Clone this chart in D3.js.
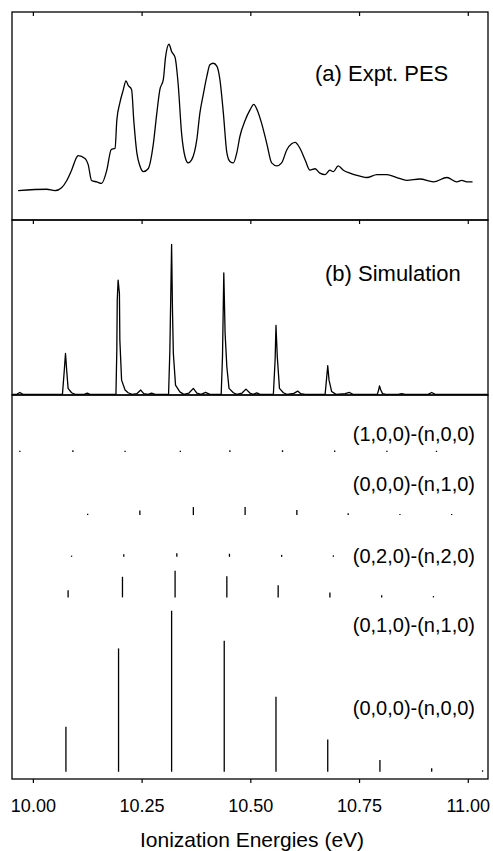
<!DOCTYPE html>
<html>
<head>
<meta charset="utf-8">
<script src="https://cdn.jsdelivr.net/npm/d3@7"></script>
<style>
  html, body { margin: 0; padding: 0; background: #fff; }
  svg { display: block; font-family: "Liberation Sans", Arial, Helvetica, sans-serif; }
</style>
</head>
<body>
<svg id="chart" width="493" height="851"></svg>
<script>
// ---------------- DATA ----------------
const xTicks = [10.00, 10.25, 10.50, 10.75, 11.00];
const xTickLabels = ["10.00", "10.25", "10.50", "10.75", "11.00"];
const xTitle = "Ionization Energies (eV)";

// (a) experimental photoelectron spectrum (relative intensity)
const pesEnergy = [9.966,10.032,10.051,10.066,10.078,10.089,10.101,10.104,10.120,10.127,10.135,10.147,10.158,10.170,10.180,10.189,10.193,10.200,10.208,10.214,10.219,10.227,10.232,10.239,10.246,10.254,10.265,10.277,10.285,10.292,10.300,10.305,10.313,10.319,10.327,10.334,10.342,10.350,10.357,10.365,10.377,10.384,10.392,10.400,10.407,10.415,10.423,10.430,10.438,10.446,10.453,10.461,10.469,10.476,10.488,10.499,10.508,10.516,10.526,10.538,10.549,10.561,10.572,10.584,10.595,10.603,10.614,10.626,10.637,10.649,10.660,10.672,10.683,10.691,10.702,10.714,10.729,10.752,10.768,10.791,10.814,10.837,10.860,10.890,10.921,10.952,10.975,10.986,10.998,11.011];
const pesIntensity = [0.00,0.01,0.00,0.02,0.07,0.14,0.23,0.24,0.22,0.18,0.07,0.06,0.05,0.14,0.28,0.29,0.48,0.60,0.69,0.75,0.72,0.69,0.48,0.26,0.17,0.13,0.15,0.32,0.53,0.69,0.76,0.91,1.00,0.95,0.91,0.73,0.39,0.23,0.19,0.21,0.35,0.53,0.66,0.78,0.86,0.87,0.85,0.76,0.53,0.26,0.20,0.19,0.26,0.37,0.48,0.55,0.59,0.55,0.46,0.32,0.19,0.17,0.19,0.28,0.32,0.33,0.29,0.21,0.14,0.15,0.12,0.11,0.14,0.13,0.17,0.14,0.12,0.10,0.09,0.11,0.11,0.09,0.07,0.08,0.06,0.09,0.06,0.07,0.06,0.06];

// (b) simulated spectrum (relative intensity)
const simEnergy = [9.953,9.963,9.970,9.977,10.068,10.072,10.075,10.078,10.081,10.089,10.097,10.118,10.125,10.131,10.191,10.193,10.194,10.196,10.199,10.200,10.204,10.212,10.219,10.228,10.239,10.248,10.255,10.265,10.273,10.281,10.312,10.315,10.319,10.321,10.323,10.328,10.338,10.347,10.359,10.369,10.377,10.387,10.397,10.407,10.433,10.436,10.439,10.442,10.446,10.451,10.461,10.469,10.481,10.490,10.499,10.506,10.515,10.522,10.553,10.557,10.559,10.562,10.567,10.576,10.584,10.600,10.609,10.616,10.626,10.672,10.675,10.678,10.681,10.687,10.697,10.718,10.728,10.736,10.792,10.795,10.797,10.800,10.804,10.812,10.840,10.848,10.856,10.909,10.917,10.925,11.045];
const simIntensity = [0,0,0.013,0,0,0.151,0.273,0.151,0.040,0.011,0,0,0.009,0,0,0.295,0.629,0.762,0.673,0.362,0.095,0.029,0.011,0,0.005,0.029,0.005,0,0.009,0,0,0.295,1.000,0.562,0.273,0.062,0.017,0,0.009,0.040,0.009,0,0.013,0,0,0.251,0.811,0.407,0.184,0.040,0.011,0,0.009,0.035,0.009,0,0.010,0,0,0.229,0.460,0.251,0.040,0.011,0,0.007,0.022,0.005,0,0,0.095,0.191,0.095,0.019,0,0.005,0.013,0,0,0.029,0.057,0.029,0.005,0,0,0.005,0,0,0.013,0,0];

// (c) stick spectra for each progression
const rowLabels = ["(1,0,0)-(n,0,0)", "(0,0,0)-(n,1,0)", "(0,2,0)-(n,2,0)", "(0,1,0)-(n,1,0)", "(0,0,0)-(n,0,0)"];
const stick100Energy = [9.970,10.092,10.212,10.339,10.453,10.574,10.694,10.814,10.928];
const stick100Intensity = [0.008,0.011,0.008,0.006,0.011,0.011,0.009,0.008,0.006];
const stick000n10Energy = [10.126,10.246,10.369,10.488,10.607,10.725,10.844,10.963];
const stick000n10Intensity = [0.009,0.029,0.050,0.050,0.031,0.012,0.006,0.006];
const stick020Energy = [10.089,10.209,10.331,10.452,10.572,10.691];
const stick020Intensity = [0.006,0.016,0.022,0.019,0.012,0.009];
const stick010Energy = [10.081,10.206,10.327,10.446,10.564,10.683,10.802,10.921];
const stick010Intensity = [0.045,0.128,0.166,0.132,0.076,0.031,0.014,0.008];
const stick000Energy = [10.076,10.197,10.319,10.440,10.559,10.678,10.798,10.917,11.034];
const stick000Intensity = [0.280,0.766,1.000,0.814,0.466,0.201,0.073,0.021,0.009];

// ---------------- LAYOUT ----------------
const L = 12, R = 488;
const panelA = [12, 220], panelB = [220, 395], panelC = [395, 779];
// vertical offsets of the stacked stick rows (in intensity units of panel c)
const rowOffsets = [1.986, 1.594, 1.335, 1.083, 0];
const rowLabelY = [441, 491, 563, 632, 715];
const rowLabelX = 475;

const svg = d3.select("#chart");
const x = d3.scaleLinear().domain([9.952, 11.0465]).range([L, R]);
const yA = d3.scaleLinear().domain([-0.2, 1.22]).range([panelA[1], panelA[0]]);
const yB = d3.scaleLinear().domain([-0.004, 1.163]).range([panelB[1], panelB[0]]);
const yC = d3.scaleLinear().domain([-0.045, 2.34]).range([panelC[1], panelC[0]]);

// frames
[panelA, panelB, panelC].forEach(p => {
  svg.append("rect").attr("x", L).attr("y", p[0]).attr("width", R - L).attr("height", p[1] - p[0])
    .attr("fill", "none").attr("stroke", "#000").attr("stroke-width", 1.3);
});

// inward ticks at top of panels a and b
[panelA[0], panelB[0]].forEach(yy => {
  const g = svg.append("g").attr("transform", `translate(0,${yy})`)
    .call(d3.axisBottom(x).tickValues(xTicks).tickSize(4).tickFormat(""));
  g.select(".domain").remove();
  g.selectAll(".tick line").attr("stroke", "#000").attr("stroke-width", 1.2);
});

// bottom axis
const gx = svg.append("g").attr("transform", `translate(0,${panelC[1]})`)
  .call(d3.axisBottom(x).tickValues(xTicks).tickSize(4).tickPadding(16)
    .tickFormat((d, i) => xTickLabels[i]));
gx.select(".domain").remove();
gx.selectAll(".tick line").attr("stroke", "#000").attr("stroke-width", 1.2);
gx.selectAll(".tick text").attr("font-size", 18).attr("fill", "#000")
  .attr("font-family", '"Liberation Sans", Arial, sans-serif');

svg.append("text").attr("x", 252).attr("y", 847).attr("text-anchor", "middle")
  .attr("font-size", 21).attr("fill", "#000").text(xTitle);

// (a) PES
const pesData = pesEnergy.map((e, i) => [e, pesIntensity[i]]);
svg.append("path").datum(pesData)
  .attr("d", d3.line().curve(d3.curveMonotoneX).x(d => x(d[0])).y(d => yA(d[1])))
  .attr("fill", "none").attr("stroke", "#000").attr("stroke-width", 1.3).attr("stroke-linejoin", "round");
svg.append("text").attr("x", 315).attr("y", 81).attr("font-size", 22).attr("fill", "#000").text("(a) Expt. PES");

// (b) simulation
const simData = simEnergy.map((e, i) => [e, simIntensity[i]]);
svg.append("path").datum(simData)
  .attr("d", d3.line().x(d => x(d[0])).y(d => yB(d[1])))
  .attr("fill", "none").attr("stroke", "#000").attr("stroke-width", 1.3).attr("stroke-linejoin", "round");
svg.append("text").attr("x", 325).attr("y", 281).attr("font-size", 22).attr("fill", "#000").text("(b) Simulation");

// (c) sticks
const rows = [
  [stick100Energy, stick100Intensity],
  [stick000n10Energy, stick000n10Intensity],
  [stick020Energy, stick020Intensity],
  [stick010Energy, stick010Intensity],
  [stick000Energy, stick000Intensity]
];
rows.forEach((r, ri) => {
  const off = rowOffsets[ri];
  const data = r[0].map((e, i) => ({ e, v: r[1][i] }));
  svg.append("g").selectAll("line").data(data).join("line")
    .attr("x1", d => x(d.e)).attr("x2", d => x(d.e))
    .attr("y1", yC(off)).attr("y2", d => Math.min(yC(off + d.v), yC(off) - 1.2))
    .attr("stroke", "#000").attr("stroke-width", 1.3);
  svg.append("text").attr("x", rowLabelX).attr("y", rowLabelY[ri]).attr("text-anchor", "end")
    .attr("font-size", 20).attr("fill", "#000").text(rowLabels[ri]);
});
</script>
</body>
</html>
